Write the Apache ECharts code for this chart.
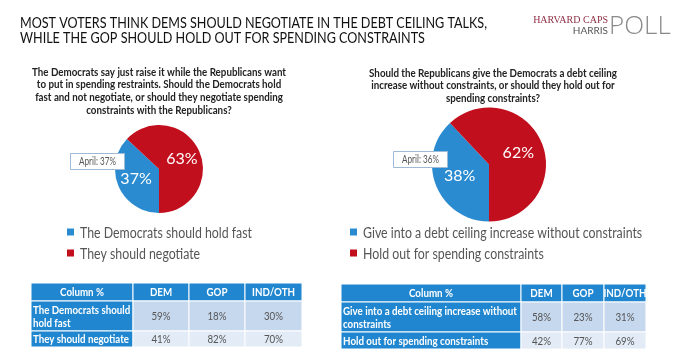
<!DOCTYPE html>
<html><head><meta charset="utf-8">
<script src="https://cdn.jsdelivr.net/npm/echarts@6/dist/echarts.min.js"></script>
<style>html,body{margin:0;padding:0;background:#fff}#c{width:680px;height:362px}</style>
</head><body><div id="c"></div>
<script>
// ---- data ----
const titleLines = ["MOST VOTERS THINK DEMS SHOULD NEGOTIATE IN THE DEBT CEILING TALKS,", "WHILE THE GOP SHOULD HOLD OUT FOR SPENDING CONSTRAINTS"];
const q1Lines = ["The Democrats say just raise it while the Republicans want", "to put in spending restraints. Should the Democrats hold", "fast and not negotiate, or should they negotiate spending", "constraints with the Republicans?"];
const q2Lines = ["Should the Republicans give the Democrats a debt ceiling", "increase without constraints, or should they hold out for", "spending constraints?"];
const pie1Names = ["The Democrats should hold fast", "They should negotiate"];
const pie1Values = [37, 63];
const pie2Names = ["Give into a debt ceiling increase without constraints", "Hold out for spending constraints"];
const pie2Values = [38, 62];
const april1 = "April: 37%";
const april2 = "April: 36%";
const tableHeader = ["Column %", "DEM", "GOP", "IND/OTH"];
const t1Rows = ["The Democrats should\nhold fast", "They should negotiate"];
const t1Dem = ["59%", "41%"];
const t1Gop = ["18%", "82%"];
const t1Ind = ["30%", "70%"];
const t2Rows = ["Give into a debt ceiling increase without\nconstraints", "Hold out for spending constraints"];
const t2Dem = ["58%", "42%"];
const t2Gop = ["23%", "77%"];
const t2Ind = ["31%", "69%"];

// ---- styles ----
const FONT = 'Lato';
const BLUE = '#2b8bd1', RED = '#c10f1d', HEAD = '#1f86cf', ROW1 = '#c6d8ee', ROW2 = '#e2ebf6';

const mctx = document.createElement('canvas').getContext('2d');
function measure(s, size, weight) { mctx.font = (weight || 'normal') + ' ' + size + 'px ' + FONT; return mctx.measureText(s).width; }
function fitScale(s, size, weight, target) { return target / measure(s, size, weight); }

const chart = echarts.init(document.getElementById('c'), null, {renderer: 'canvas'});
const g = [];
function txt(x, y, s, st, sx, z) {
  g.push({type: 'text', x: x, y: y, scaleX: sx || 1, silent: true, z: z || 1,
    style: Object.assign({text: s, fontFamily: FONT}, st)});
}

// title
const tSx = fitScale(titleLines[0], 15, 'normal', 467);
titleLines.forEach((s, i) => txt(20, 23 + i * 15, s, {fontSize: 15, fill: '#111', verticalAlign: 'middle'}, tSx));
// logo
txt(608, 20, "HARVARD CAPS", {fontFamily: '"Liberation Serif",serif', fontSize: 10, fill: '#8e2f42', align: 'right', verticalAlign: 'middle'});
txt(608, 31, "HARRIS", {fontFamily: 'Lato,sans-serif', fontSize: 10, fill: '#555', align: 'right', verticalAlign: 'middle'});
txt(609, 27, "POLL", {fontFamily: '"Open Sans",sans-serif', fontWeight: 300, fontSize: 26, fill: '#8a8a8a', verticalAlign: 'middle'});

// questions
const qSx = fitScale(q1Lines[0], 11.5, 'bold', 254);
q1Lines.forEach((s, i) => txt(159, 72 + i * 12.7, s, {fontSize: 11.5, fontWeight: 'bold', fill: '#222', align: 'center', verticalAlign: 'middle'}, qSx));
q2Lines.forEach((s, i) => txt(493, 73 + i * 12.7, s, {fontSize: 11.5, fontWeight: 'bold', fill: '#222', align: 'center', verticalAlign: 'middle'}, qSx));

// april boxes
const aSx = fitScale(april1, 10.5, 'normal', 37);
function aprilBox(x, y, w, h, s) {
  g.push({type: 'rect', x: x, y: y, silent: true, shape: {width: w, height: h}, style: {fill: '#fff', stroke: '#9dbad6', lineWidth: 1}, z: 10});
  txt(x + w / 2, y + h / 2 + 0.5, s, {fontSize: 10.5, fill: '#555', align: 'center', verticalAlign: 'middle'}, aSx, 11);
}
aprilBox(70.5, 153.5, 54, 16, april1);
aprilBox(393.5, 151.5, 54, 16, april2);

// legends (drawn as rect + text so text width can be matched)
const lSx = fitScale(pie1Names[0], 15.5, 'normal', 172);
function legend(x, y0, names) {
  names.forEach((n, i) => {
    const y = y0 + i * 21;
    g.push({type: 'rect', silent: true, shape: {x: x, y: y - 3.5, width: 7, height: 7}, style: {fill: i === 0 ? BLUE : RED}});
    txt(x + 13, y + 0.5, n, {fontSize: 15.5, fill: '#555', verticalAlign: 'middle'}, lSx);
  });
}
legend(67, 232, pie1Names);
legend(350, 232, pie2Names);

// tables
function table(x0, y0, colW, rowH, rows, dem, gop, ind, sx) {
  const ys = [y0];
  rowH.forEach(h => ys.push(ys[ys.length - 1] + h));
  const xs = [x0];
  colW.forEach(w => xs.push(xs[xs.length - 1] + w));
  const cells = [tableHeader].concat(rows.map((r, i) => [r, dem[i], gop[i], ind[i]]));
  cells.forEach((row, ri) => {
    row.forEach((val, ci) => {
      const isHead = ri === 0 || ci === 0;
      const fill = isHead ? HEAD : (ri === 1 ? ROW1 : ROW2);
      g.push({type: 'rect', silent: true, shape: {x: xs[ci], y: ys[ri], width: colW[ci], height: rowH[ri]}, style: {fill: fill, stroke: '#fff', lineWidth: 1}});
      const left = ci === 0 && ri > 0;
      txt(left ? xs[ci] + 2 : xs[ci] + colW[ci] / 2, ys[ri] + rowH[ri] / 2 + 0.5, val,
        {fontSize: 11.5, lineHeight: 13, fontWeight: isHead ? 'bold' : 'normal', fill: isHead ? '#fff' : '#555', align: left ? 'left' : 'center', verticalAlign: 'middle'}, sx, 3);
    });
  });
}
table(31, 283, [102, 56, 56, 57], [18, 30, 16], t1Rows, t1Dem, t1Gop, t1Ind, fitScale("They should negotiate", 11.5, 'bold', 96));
table(341, 284, [180, 41, 42, 42], [18, 30, 17], t2Rows, t2Dem, t2Gop, t2Ind, fitScale("Give into a debt ceiling increase without", 11.5, 'bold', 174));

function pieSeries(names, vals, center, r) {
  return {type: 'pie', center: center, radius: r, startAngle: -90, clockwise: true, silent: true, animation: false,
    label: {show: true, position: 'inside', formatter: '{c}%', color: '#fff', fontSize: 16, fontFamily: FONT},
    labelLine: {show: false}, itemStyle: {borderWidth: 0},
    data: names.map((n, i) => ({name: n, value: vals[i], itemStyle: {color: i === 0 ? BLUE : RED}}))};
}

chart.setOption({
  backgroundColor: '#fff',
  animation: false,
  series: [pieSeries(pie1Names, pie1Values, [159, 169], 44), pieSeries(pie2Names, pie2Values, [489, 164.5], 57)],
  graphic: g
});
</script></body></html>
